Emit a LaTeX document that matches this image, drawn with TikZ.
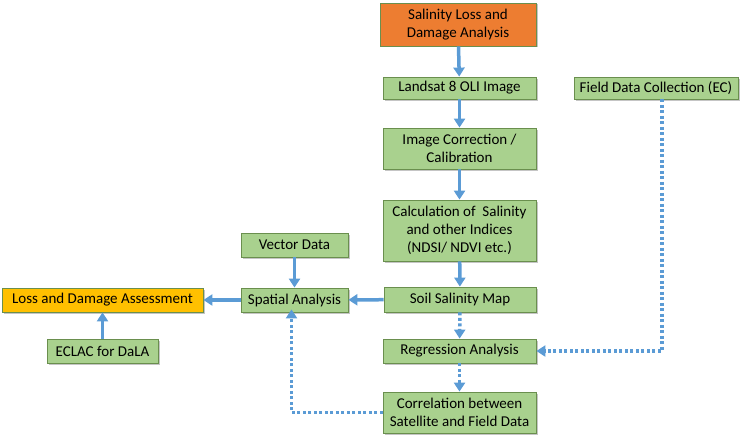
\documentclass[tikz,border=0pt]{standalone}
\usepackage{fontspec}
\setmainfont{Carlito}
\usepackage{tikz}
\usetikzlibrary{arrows.meta,shadows}

\definecolor{boxgreen}{HTML}{A9D18E}
\definecolor{boxline}{HTML}{6A8F4E}
\definecolor{boxorange}{HTML}{ED7D31}
\definecolor{boxyellow}{HTML}{FFC000}
\definecolor{flowblue}{HTML}{5B9BD5}

\begin{document}
\begin{tikzpicture}[x=1pt,y=-1pt,
  box/.style={draw=boxline,fill=boxgreen,line width=0.8pt,align=center,inner sep=0pt,
    font=\fontsize{15}{17.7}\selectfont,
    drop shadow={shadow xshift=1.5pt,shadow yshift=-1.5pt,fill=black!45,opacity=.5}},
  flow/.style={draw=flowblue,line width=3.5pt,-{Triangle[width=11pt,length=9pt]}},
  dots/.style={flow,dash pattern=on 3pt off 2.5pt}]
\useasboundingbox (0,0) rectangle (746,444);

\node[box,fill=boxorange,minimum width=156pt,minimum height=43pt] (sla) at (458,24.5) {Salinity Loss and\\Damage Analysis};
\node[box,minimum width=153pt,minimum height=22pt] (lan) at (459.5,88) {Landsat 8 OLI Image};
\node[box,minimum width=164pt,minimum height=22pt] (fdc) at (656,88) {Field Data Collection (EC)};
\node[box,minimum width=153pt,minimum height=41pt] (icc) at (459.5,148.5) {Image Correction /\\Calibration};
\node[box,minimum width=153pt,minimum height=61pt] (cal) at (459.5,230.5) {Calculation of\ \ Salinity\\and other Indices\\(NDSI/ NDVI etc.)};
\node[box,minimum width=152pt,minimum height=25pt] (ssm) at (460,299.5) {Soil Salinity Map};
\node[box,minimum width=153pt,minimum height=24pt] (reg) at (459.5,351) {Regression Analysis};
\node[box,minimum width=153pt,minimum height=41pt] (cor) at (459.5,412.5) {Correlation between\\Satellite and Field Data};
\node[box,minimum width=107pt,minimum height=24pt] (vec) at (294.5,245) {Vector Data};
\node[box,minimum width=107pt,minimum height=24pt] (spa) at (294.5,300) {Spatial Analysis};
\node[box,fill=boxyellow,minimum width=201pt,minimum height=24pt] (lda) at (102.5,300) {Loss and Damage Assessment};
\node[box,minimum width=111pt,minimum height=24pt] (ecl) at (102.5,351) {ECLAC for DaLA};

\draw[flow] (sla) -- (lan);
\draw[flow] (lan) -- (icc);
\draw[flow] (icc) -- (cal);
\draw[flow] (cal) -- (ssm);
\draw[flow] (ssm) -- (spa);
\draw[flow] (vec) -- (spa);
\draw[flow] (spa) -- (lda);
\draw[flow] (ecl) -- (lda);
\draw[dots] (ssm) -- (reg);
\draw[dots] (reg) -- (cor);
\draw[dots] ([xshift=6pt]fdc.south) |- (reg.east);
\draw[dots] (cor.west) -| ([xshift=-3pt,yshift=3pt]spa.south);
\end{tikzpicture}
\end{document}
